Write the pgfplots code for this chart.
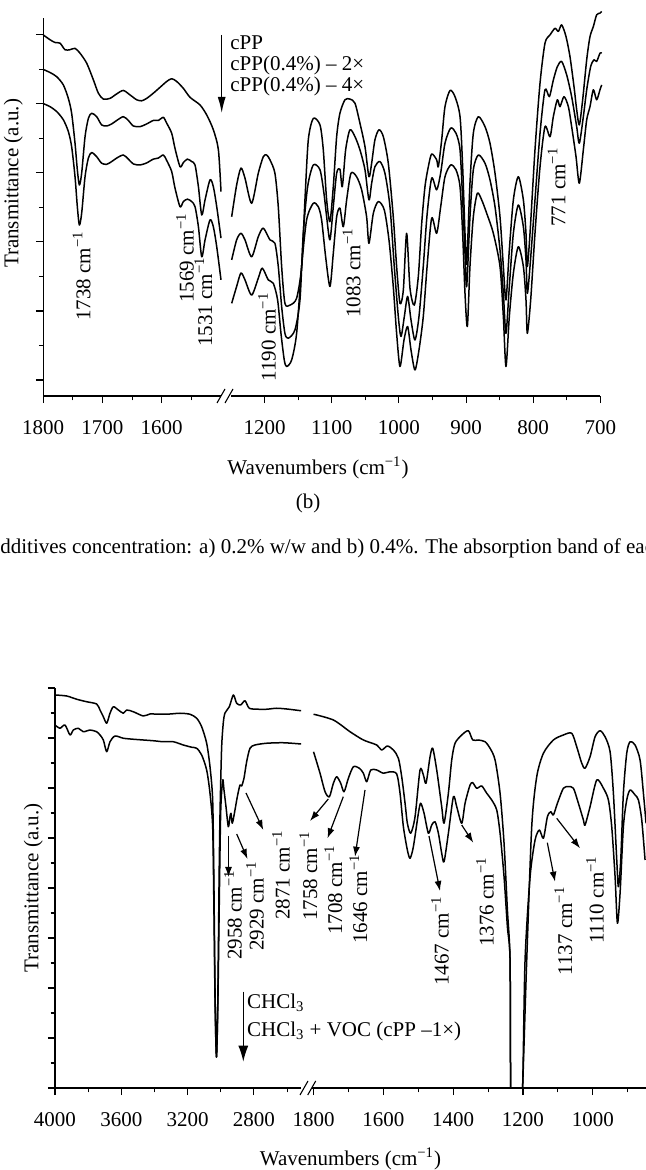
\documentclass[border=0pt]{standalone}
\usepackage{fontspec}
\setmainfont{Liberation Serif}
\usepackage{pgfplots}
\pgfplotsset{compat=1.18}
\usetikzlibrary{arrows.meta}

\newcommand{\lbl}{\fontsize{10.5}{12}\selectfont}
\newcommand{\icm}{cm\textsuperscript{−1}}

\pgfplotsset{
  irbase/.style={
    scale only axis,
    x dir=reverse,
    axis x line*=bottom,
    tick align=outside,
    major tick length=3.6pt,
    minor tick length=2.2pt,
    axis line style={line width=0.55pt},
    every tick/.style={line width=0.55pt, black},
    every minor tick/.style={line width=0.55pt, black},
    tick label style={font=\lbl},
    xticklabel style={yshift=-5pt},
    /pgf/number format/assume math mode=true,
    /pgf/number format/1000 sep={},
    scaled ticks=false,
  },
  lefty/.style={axis y line*=left, yticklabels={}},
  noy/.style={axis y line=none, ytick=\empty},
  spec/.style={line width=0.75pt, black, smooth, tension=0.45, line join=round, mark=none},
}

\begin{document}
\begin{tikzpicture}[
  lab/.style={font=\lbl, inner sep=0pt},
  arr/.style={-{Latex[length=5pt,width=3.5pt]}, line width=0.6pt},
]
\path[use as bounding box] (0,0) rectangle (323pt,585pt);
\clip (0,0) rectangle (323pt,585pt);

% ---------------- panel (b): 1800-1500 cm-1 ----------------
\begin{axis}[irbase, lefty, at={(21.6pt,387pt)}, anchor=south west,
  width=88.9pt, height=189pt, xmin=1500, xmax=1800, ymin=-4.64, ymax=104.9,
  xtick={1600,1700,1800}, xticklabels={1600,1700,1800},
  minor xtick={1550,1650,1750},
  ytick={0,20,...,100}, minor ytick={10,30,...,90}, clip=false]
\addplot[spec] coordinates {(1800,100.0)(1788.5,98.6)(1780.1,97.8)(1771.6,97.6)(1763.2,95.7)(1754.8,95.7)(1746.3,96.1)(1737.9,94.7)(1726.6,91.8)(1715.4,87.0)(1706.9,83.1)(1698.5,81.4)(1687.3,81.6)(1676.0,82.9)(1664.8,83.9)(1653.5,82.6)(1642.3,81.2)(1633.8,80.9)(1625.4,81.6)(1614.2,83.1)(1602.9,84.8)(1591.6,86.5)(1583.2,87.3)(1574.7,86.5)(1563.5,84.5)(1552.2,81.9)(1535.4,79.7)(1524.1,76.8)(1512.9,72.5)(1504.4,66.7)(1500,54.6)};
\addplot[spec] coordinates {(1800,90.0)(1788.5,89.1)(1777.3,87.9)(1766.0,85.5)(1757.6,81.6)(1752.0,77.3)(1746.3,68.6)(1742.4,60.9)(1739.0,56.5)(1735.1,59.9)(1729.4,70.5)(1723.8,75.8)(1718.2,77.3)(1709.8,76.3)(1701.3,73.9)(1692.9,73.6)(1684.4,74.2)(1676.0,75.2)(1664.8,76.3)(1656.3,75.2)(1647.9,73.6)(1636.6,73.4)(1625.4,74.2)(1614.2,75.2)(1605.7,75.2)(1597.3,76.1)(1591.6,74.4)(1583.2,71.5)(1577.6,67.1)(1569.1,61.8)(1563.5,63.0)(1556.7,64.0)(1549.4,63.3)(1543.8,62.3)(1538.1,56.0)(1532.5,47.8)(1526.9,52.2)(1518.5,58.0)(1512.9,56.0)(1507.2,50.2)(1500,41.1)};
\addplot[spec] coordinates {(1800,80.1)(1788.5,79.2)(1777.3,77.8)(1766.0,75.4)(1757.6,72.0)(1752.0,67.6)(1746.3,58.9)(1742.4,50.2)(1739.0,44.9)(1735.1,48.3)(1729.4,58.9)(1723.8,64.3)(1718.2,65.9)(1709.8,64.7)(1701.3,62.8)(1692.9,62.5)(1684.4,63.3)(1676.0,64.3)(1664.8,65.2)(1656.3,64.0)(1647.9,62.6)(1636.6,62.3)(1625.4,62.9)(1614.2,64.0)(1605.7,64.3)(1597.3,65.2)(1591.6,63.6)(1583.2,60.4)(1577.6,55.6)(1569.1,50.2)(1563.5,51.7)(1556.7,52.4)(1549.4,51.7)(1543.8,50.2)(1538.1,44.4)(1532.5,35.7)(1526.9,40.6)(1518.5,46.4)(1512.9,44.4)(1507.2,38.6)(1500,29.0)};
\end{axis}

% ---------------- panel (b): 1250-700 cm-1 ----------------
\begin{axis}[irbase, noy, at={(115.5pt,387pt)}, anchor=south west,
  width=184.7pt, height=189pt, xmin=700, xmax=1250, ymin=-4.64, ymax=104.9,
  xtick={700,800,...,1200}, xticklabels={700,800,900,1000,1100,1200},
  minor xtick={750,850,...,1150}, clip=false]
\addplot[spec] coordinates {(1249.0,47.3)(1241.6,56.5)(1235.2,61.4)(1229.2,58.5)(1219.3,51.2)(1209.4,59.9)(1201.9,64.7)(1197.0,65.2)(1192.0,63.8)(1184.6,59.9)(1179.6,50.2)(1174.6,32.9)(1169.7,22.2)(1162.2,21.7)(1152.3,23.7)(1144.8,32.9)(1139.9,52.2)(1134.9,69.6)(1127.5,75.8)(1117.5,73.9)(1112.6,66.7)(1107.6,52.2)(1102.7,45.9)(1097.7,56.0)(1092.7,70.5)(1087.8,77.3)(1080.3,81.2)(1072.9,81.4)(1065.4,80.2)(1058.0,74.4)(1050.5,67.6)(1044.6,58.9)(1040.6,62.8)(1035.7,69.6)(1029.7,72.5)(1023.2,70.5)(1015.8,62.8)(1008.4,47.3)(1003.4,32.9)(998.4,22.2)(993.4,26.1)(988.5,42.5)(983.5,26.6)(977.1,21.7)(971.1,30.0)(966.2,45.0)(961.2,56.0)(956.0,62.0)(951.2,65.5)(943.8,63.8)(941.3,61.8)(936.3,69.6)(931.4,79.2)(923.9,83.9)(916.5,82.1)(909.0,76.3)(905.1,61.8)(901.6,42.5)(899.1,33.8)(894.2,57.0)(889.2,71.5)(881.7,76.3)(871.8,73.4)(864.4,68.6)(856.9,59.9)(849.5,47.3)(844.5,32.9)(840.6,23.2)(835.6,37.7)(829.6,52.2)(822.2,58.9)(814.7,52.2)(810.8,42.5)(808.8,32.9)(804.8,42.5)(797.4,66.7)(789.9,86.0)(782.5,97.6)(775.0,100.0)(767.6,101.9)(762.6,101.0)(757.7,102.9)(751.2,99.5)(745.3,93.7)(739.3,85.0)(735.3,78.3)(731.4,73.9)(726.4,81.2)(720.4,92.8)(715.5,99.5)(710.5,102.4)(705.6,105.8)(700.6,106.3)(698.1,106.8)};
\addplot[spec] coordinates {(1249.0,34.8)(1241.6,40.6)(1235.2,42.5)(1229.2,40.6)(1219.3,35.7)(1209.4,41.5)(1201.9,44.0)(1192.0,40.6)(1184.6,39.6)(1179.6,32.9)(1174.6,21.3)(1169.7,13.5)(1164.7,12.1)(1154.8,14.5)(1147.3,23.2)(1142.4,42.5)(1135.9,56.0)(1127.5,62.3)(1117.5,60.9)(1111.6,54.1)(1107.6,47.3)(1102.7,40.6)(1097.7,50.2)(1092.7,59.9)(1087.8,61.1)(1084.3,56.0)(1079.3,66.7)(1072.9,72.5)(1065.4,70.5)(1058.0,66.7)(1050.5,60.9)(1044.6,52.2)(1040.6,57.0)(1035.7,61.8)(1028.2,63.3)(1020.8,59.9)(1013.3,50.2)(1006.9,32.9)(1000.9,18.4)(996.9,12.6)(991.9,18.4)(987.0,24.2)(982.0,17.4)(976.1,11.6)(970.1,18.4)(963.7,33.0)(958.0,48.0)(951.2,58.5)(943.8,55.1)(937.8,60.0)(931.4,68.6)(922.9,73.0)(915.0,71.5)(909.0,66.7)(905.1,52.2)(901.6,36.7)(899.1,27.1)(894.2,47.3)(889.2,60.9)(881.7,65.2)(871.8,62.8)(864.4,58.0)(856.9,50.2)(849.5,37.7)(844.5,25.1)(840.6,13.5)(835.6,27.1)(829.6,42.5)(822.2,50.7)(814.7,44.4)(810.8,34.8)(808.8,25.1)(804.8,32.9)(797.4,52.2)(789.9,71.5)(782.5,84.1)(776.0,82.1)(770.1,86.9)(764.1,90.8)(757.7,92.3)(750.2,88.4)(742.8,82.1)(735.3,73.4)(731.4,68.6)(725.4,76.3)(720.4,84.1)(714.5,90.8)(709.5,92.8)(705.6,92.3)(700.6,94.7)(698.1,94.7)};
\addplot[spec] coordinates {(1249.0,22.2)(1241.6,27.1)(1235.2,31.0)(1229.2,29.0)(1219.3,24.6)(1209.4,29.5)(1203.4,32.4)(1194.5,29.0)(1187.0,28.0)(1180.6,23.2)(1175.6,13.5)(1170.7,5.8)(1167.2,3.9)(1159.7,5.8)(1152.3,13.5)(1144.8,32.9)(1137.4,46.4)(1127.5,51.2)(1120.0,50.2)(1115.1,46.4)(1109.1,35.7)(1102.7,27.1)(1097.7,36.7)(1092.7,47.3)(1087.8,49.8)(1082.8,44.4)(1077.8,52.2)(1071.4,59.9)(1063.0,58.9)(1055.5,55.1)(1048.1,47.3)(1044.6,39.6)(1038.1,48.3)(1030.7,51.7)(1021.8,49.3)(1014.8,40.6)(1008.4,27.1)(1003.4,13.5)(998.4,3.9)(992.4,11.6)(987.0,15.5)(982.0,8.7)(976.1,2.9)(970.1,8.7)(963.7,18.4)(958.0,33.0)(951.2,46.9)(943.8,42.5)(937.8,50.2)(931.4,58.9)(922.9,62.3)(915.0,60.9)(909.0,56.0)(905.1,42.5)(901.6,25.1)(898.1,15.5)(894.2,32.9)(889.2,47.3)(883.2,54.1)(876.8,52.2)(869.3,48.3)(859.4,42.5)(849.5,32.9)(844.5,18.4)(840.6,3.9)(835.6,18.4)(829.6,30.9)(822.2,38.6)(814.7,32.9)(810.8,23.2)(808.8,13.5)(803.8,23.2)(797.4,42.5)(789.9,61.8)(782.5,73.4)(775.0,70.5)(770.1,76.3)(764.1,81.2)(760.2,79.2)(754.2,82.1)(747.7,79.2)(742.8,73.4)(736.3,64.7)(731.4,57.0)(725.4,66.7)(720.4,75.4)(715.5,79.2)(710.5,84.1)(705.6,81.2)(700.6,84.1)(698.1,85.5)};
\end{axis}

% axis break marks, panel (b)
\draw[line width=0.55pt] (108.5pt,383.5pt) -- (112.5pt,390.5pt);
\draw[line width=0.55pt] (112.5pt,383.5pt) -- (116.5pt,390.5pt);

% labels, panel (b)
\node[lab, rotate=90] at (6.65pt,493.25pt) {Transmittance (a.u.)};
\node[lab, rotate=90] at (40.85pt,447pt) {1738 \icm};
\node[lab, rotate=90] at (92.5pt,456pt) {1569 \icm};
\node[lab, rotate=90] at (101.65pt,434pt) {1531 \icm};
\node[lab, rotate=90] at (133.5pt,416.5pt) {1190 \icm};
\node[lab, rotate=90] at (175.85pt,448.5pt) {1083 \icm};
\node[lab, rotate=90] at (278.35pt,491.5pt) {771 \icm};
\draw[-{Latex[length=8pt,width=4pt]}, line width=0.6pt] (110.85pt,567.5pt) -- (110.85pt,528.5pt);
\node[lab, anchor=west] at (115pt,563.5pt) {cPP};
\node[lab, anchor=west] at (115pt,552.5pt) {cPP(0.4\%) – 2×};
\node[lab, anchor=west] at (115pt,542pt) {cPP(0.4\%) – 4×};
\node[lab] at (159pt,351pt) {Wavenumbers (\icm)};
\node[lab] at (154pt,333.5pt) {(b)};
\node[lab, anchor=west] at (-4.7pt,311pt) {additives concentration: a) 0.2\% w/w and b) 0.4\%. The absorption band of each};

% ---------------- lower panel: 4000-2515 cm-1 ----------------
\begin{axis}[irbase, lefty, at={(27.5pt,41pt)}, anchor=south west,
  width=123.1pt, height=200pt, xmin=2515, xmax=4000, ymin=0, ymax=16,
  xtick={2800,3200,3600,4000}, xticklabels={2800,3200,3600,4000},
  minor xtick={2600,3000,3400,3800},
  ytick={0,2,...,16}, minor ytick={1,3,...,15}]
\addplot[spec] coordinates {(4000,15.72)(3929.6,15.68)(3869.3,15.55)(3809.0,15.45)(3748.7,15.36)(3728.6,15.12)(3708.4,14.85)(3688.3,14.59)(3668.2,14.99)(3648.1,15.25)(3618.0,15.12)(3587.8,14.99)(3567.7,15.12)(3527.5,15.05)(3467.2,14.88)(3427.0,14.96)(3366.7,14.95)(3306.3,14.96)(3246.0,14.99)(3185.7,14.95)(3145.5,14.79)(3115.3,14.45)(3085.2,13.79)(3065.1,12.85)(3049.0,11.52)(3042,8.5)(3034,3.5)(3026,1.24)(3018,3.5)(3010,8.5)(3004,11.2)(2995,13.6)(2985,14.6)(2974.7,15.0)(2948.5,15.25)(2924.4,15.72)(2904.3,15.39)(2880.2,15.32)(2854.0,15.49)(2827.9,15.19)(2773.6,15.15)(2723.4,15.15)(2663.0,15.19)(2602.7,15.16)(2552.4,15.12)(2515,15.09)};
\addplot[spec] coordinates {(4000,14.52)(3969.8,14.39)(3939.7,14.52)(3909.5,14.12)(3889.4,14.32)(3859.2,14.39)(3829.1,14.25)(3788.9,14.32)(3748.7,14.25)(3728.6,14.12)(3708.4,13.92)(3688.3,13.45)(3668.2,13.85)(3638.1,14.08)(3587.8,13.99)(3527.5,13.95)(3467.2,13.92)(3406.9,13.89)(3346.5,13.85)(3286.2,13.85)(3226.0,13.72)(3175.7,13.63)(3145.5,13.59)(3115.3,13.32)(3085.2,12.72)(3065.1,11.79)(3049.0,10.45)(3042,7.5)(3034,3.2)(3026,1.24)(3018,3.2)(3010,6.99)(3000.8,10.99)(2988.7,12.32)(2980.7,11.92)(2968.6,11.25)(2954.6,10.45)(2944.5,10.85)(2938.5,10.99)(2930.5,10.59)(2914.4,11.12)(2900.3,11.65)(2884.2,12.12)(2874.1,12.08)(2860.1,12.39)(2844.0,13.05)(2823.9,13.59)(2793.7,13.72)(2723.4,13.79)(2622.8,13.81)(2515,13.76)};
\end{axis}

% ---------------- lower panel: 1805-840 cm-1 ----------------
\begin{axis}[irbase, noy, at={(155.9pt,41pt)}, anchor=south west,
  width=168.4pt, height=200pt, xmin=840, xmax=1805, ymin=0, ymax=16,
  xtick={1000,1200,1400,1600,1800}, xticklabels={1000,1200,1400,1600,1800},
  minor xtick={900,1100,1300,1500,1700}]
\addplot[spec] coordinates {(1800,14.95)(1743.2,14.72)(1695.4,14.25)(1657.2,13.92)(1619.0,13.72)(1604.7,13.52)(1588.4,13.68)(1571.3,13.52)(1556.9,13.19)(1547.4,12.45)(1537.8,11.39)(1531.2,10.59)(1521.6,10.19)(1509.2,10.85)(1494.9,12.72)(1485.3,12.52)(1477.7,12.19)(1466.2,13.25)(1458.6,13.59)(1447.1,12.72)(1432.8,11.25)(1426.1,10.59)(1413.7,11.79)(1404.1,13.12)(1394.6,13.79)(1375.4,14.12)(1356.4,14.29)(1343.9,13.92)(1327.7,13.92)(1308.6,13.85)(1294.3,13.59)(1279.9,13.12)(1265.6,11.79)(1254.2,9.79)(1244.6,7.12)(1237.0,5.12)(1235,0)(1225,-4)(1212,-4)(1201,0)(1189.2,5.12)(1174.9,10.45)(1160.6,12.45)(1141.4,13.39)(1112.8,13.92)(1084.2,14.12)(1060.3,14.19)(1046.0,13.65)(1031.6,12.99)(1022.1,12.79)(1007.8,13.25)(993.4,14.05)(979.1,14.29)(964.8,14.05)(950.4,13.45)(940.9,11.79)(931.3,9.12)(926.6,8.05)(919.9,9.12)(912.3,11.79)(902.7,13.39)(893.1,13.85)(878.8,13.72)(864.5,13.12)(854.9,11.79)(847.3,10.59)};
\addplot[spec] coordinates {(1800,13.45)(1781.4,12.59)(1767.0,11.85)(1754.6,11.65)(1743.2,12.19)(1733.6,12.45)(1722.2,12.19)(1712.6,11.85)(1700.2,12.39)(1685.9,12.85)(1668.7,12.79)(1657.2,12.59)(1647.7,12.25)(1636.2,12.72)(1619.0,12.72)(1599.9,12.59)(1580.8,12.65)(1561.7,12.56)(1552.2,11.79)(1542.6,10.45)(1531.2,9.52)(1523.5,9.19)(1514.0,9.65)(1499.6,10.99)(1493.0,11.39)(1483.4,10.99)(1471.0,10.19)(1461.4,10.52)(1451.9,10.65)(1442.3,10.19)(1432.8,9.39)(1426.1,9.05)(1413.7,10.19)(1399.3,11.65)(1389.8,11.25)(1375.4,10.59)(1365.9,11.39)(1351.6,12.12)(1343.9,12.21)(1332.5,11.99)(1318.2,12.08)(1303.8,11.79)(1289.5,11.52)(1275.2,11.12)(1265.6,10.19)(1254.2,8.45)(1244.6,6.45)(1237.0,5.12)(1235,0)(1225,-4)(1212,-4)(1201,0)(1194.0,5.12)(1179.6,8.45)(1165.3,9.92)(1152.9,10.32)(1141.4,9.99)(1130.0,10.85)(1120.4,11.05)(1112.8,10.92)(1101.3,11.39)(1084.2,11.99)(1069.8,12.05)(1055.5,11.99)(1041.2,11.39)(1026.8,10.72)(1022.1,10.52)(1007.8,11.25)(988.6,12.32)(969.5,11.99)(955.2,11.52)(945.7,10.45)(936.1,8.45)(929.4,6.59)(921.8,7.79)(912.3,10.45)(902.7,11.52)(893.1,11.92)(878.8,11.72)(869.2,11.52)(859.7,10.72)(850.2,9.12)};
\end{axis}

% axis break marks, lower panel
\draw[line width=0.55pt] (150pt,37.5pt) -- (154pt,44.5pt);
\draw[line width=0.55pt] (153.85pt,37.5pt) -- (157.85pt,44.5pt);

% labels, lower panel
\node[lab, rotate=90] at (16.65pt,141pt) {Transmittance (a.u.)};
\node[lab, rotate=90] at (116.5pt,127.5pt) {2958 \icm};
\node[lab, rotate=90] at (127.5pt,132pt) {2929 \icm};
\node[lab, rotate=90] at (140.5pt,147.5pt) {2871 \icm};
\node[lab, rotate=90] at (154.15pt,147pt) {1758 \icm};
\node[lab, rotate=90] at (166.65pt,140pt) {1708 \icm};
\node[lab, rotate=90] at (179.15pt,135.5pt) {1646 \icm};
\node[lab, rotate=90] at (220pt,114.5pt) {1467 \icm};
\node[lab, rotate=90] at (242.5pt,134pt) {1376 \icm};
\node[lab, rotate=90] at (281.65pt,119.5pt) {1137 \icm};
\node[lab, rotate=90] at (297.5pt,135pt) {1110 \icm};
\draw[arr] (114.25pt,167pt) -- (114.25pt,146.5pt);
\draw[arr] (118.35pt,168pt) -- (123.75pt,155.5pt);
\draw[arr] (123pt,188.5pt) -- (131.65pt,170pt);
\draw[arr] (164.15pt,185.5pt) -- (155pt,174.5pt);
\draw[arr] (171.65pt,186.65pt) -- (163.75pt,165.85pt);
\draw[arr] (182.5pt,190pt) -- (177.5pt,156.65pt);
\draw[arr] (214.5pt,167pt) -- (220pt,139.5pt);
\draw[arr] (230.85pt,172.5pt) -- (236.65pt,163.65pt);
\draw[arr] (273.65pt,163.65pt) -- (277.5pt,144.15pt);
\draw[arr] (278.35pt,175.85pt) -- (290pt,160.85pt);
\draw[-{Latex[length=8pt,width=5pt]}, line width=0.6pt] (121.65pt,89.15pt) -- (121.65pt,54.15pt);
\node[lab, anchor=west] at (123.35pt,83.5pt) {CHCl\textsubscript{3}};
\node[lab, anchor=west] at (123.35pt,69.5pt) {CHCl\textsubscript{3} + VOC (cPP –1×)};
\node[lab] at (175.25pt,5.5pt) {Wavenumbers (\icm)};
\end{tikzpicture}
\end{document}
